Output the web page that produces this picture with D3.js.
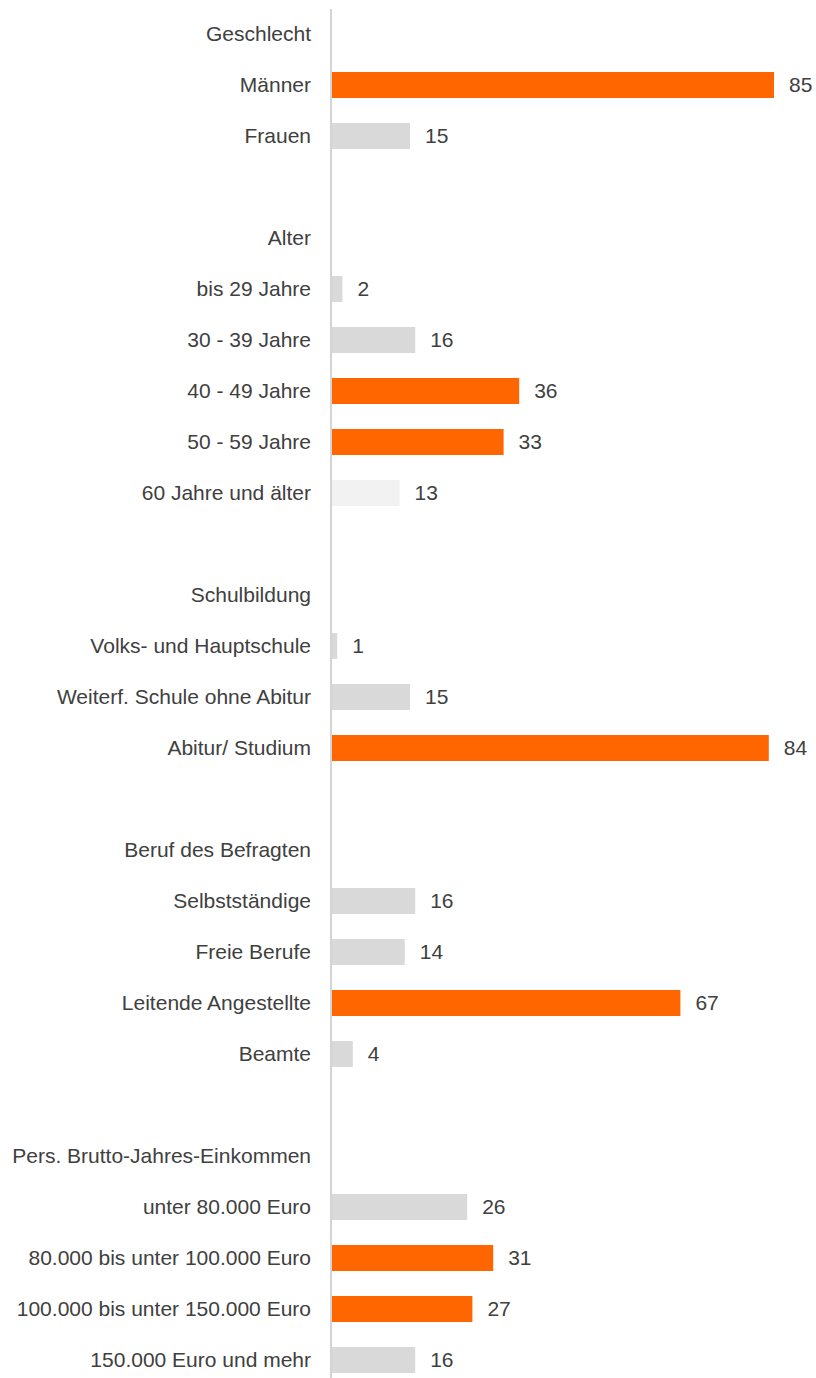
<!DOCTYPE html>
<html>
<head>
<meta charset="utf-8">
<script src="https://cdn.jsdelivr.net/npm/d3@7"></script>
<style>
	body{ margin:0; background:#fff; }
	svg text{ font-family: "Liberation Sans", Arial, sans-serif; font-size:21px; fill:#404040; }
</style>
</head>
<body>
<svg id="chart"></svg>
<script>
// rows from top to bottom; "" = empty spacer row
let labels = ["Geschlecht", "Männer", "Frauen", "",
	"Alter", "bis 29 Jahre", "30 - 39 Jahre", "40 - 49 Jahre", "50 - 59 Jahre", "60 Jahre und älter", "",
	"Schulbildung", "Volks- und Hauptschule", "Weiterf. Schule ohne Abitur", "Abitur/ Studium", "",
	"Beruf des Befragten", "Selbstständige", "Freie Berufe", "Leitende Angestellte", "Beamte", "",
	"Pers. Brutto-Jahres-Einkommen", "unter 80.000 Euro", "80.000 bis unter 100.000 Euro", "100.000 bis unter 150.000 Euro", "150.000 Euro und mehr"];
let values = [null, 85, 15, null,
	null, 2, 16, 36, 33, 13, null,
	null, 1, 15, 84, null,
	null, 16, 14, 67, 4, null,
	null, 26, 31, 27, 16];
// 1 = orange highlight, 0 = grey, 2 = light grey
let colorGroup = [0, 1, 0, 0,
	0, 0, 0, 1, 1, 2, 0,
	0, 0, 0, 1, 0,
	0, 0, 0, 1, 0, 0,
	0, 0, 1, 1, 0];

let width = 816, height = 1378;
let colors = ["#d9d9d9", "#ff6600", "#f2f2f2"];

let svg = d3.select("#chart")
	.attr("width", width)
	.attr("height", height);

let x = d3.scaleLinear()
	.domain([0, 85])
	.range([332, 774]);

let y = d3.scaleBand()
	.domain(d3.range(labels.length))
	.range([8.5, 8.5 + 51*labels.length]);

let barH = 26;

// bars
svg.selectAll("rect.bar")
	.data(d3.range(labels.length).filter(i => values[i] != null))
	.join("rect")
	.attr("class", "bar")
	.attr("x", x(0))
	.attr("y", i => y(i) + y.bandwidth()/2 - barH/2)
	.attr("width", i => x(values[i]) - x(0))
	.attr("height", barH)
	.attr("fill", i => colors[colorGroup[i]]);

// axis line
svg.append("line")
	.attr("x1", x(0) - 1).attr("x2", x(0) - 1)
	.attr("y1", 9).attr("y2", height)
	.attr("stroke", "#d4d4d4")
	.attr("stroke-width", 2);

// category labels
svg.selectAll("text.cat")
	.data(d3.range(labels.length))
	.join("text")
	.attr("class", "cat")
	.attr("x", 311)
	.attr("y", i => y(i) + y.bandwidth()/2)
	.attr("dy", "0.35em")
	.attr("text-anchor", "end")
	.text(i => labels[i]);

// value labels
svg.selectAll("text.val")
	.data(d3.range(labels.length).filter(i => values[i] != null))
	.join("text")
	.attr("class", "val")
	.attr("x", i => x(values[i]) + 15)
	.attr("y", i => y(i) + y.bandwidth()/2)
	.attr("dy", "0.35em")
	.text(i => values[i]);
</script>
</body>
</html>
